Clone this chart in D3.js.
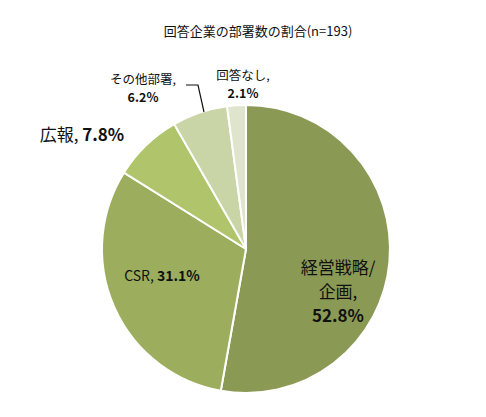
<!DOCTYPE html>
<html><head><meta charset="utf-8">
<script src="https://cdn.jsdelivr.net/npm/d3@7"></script>
<style>body{margin:0;background:#fff}text{font-family:"Noto Sans CJK JP","Noto Sans",sans-serif;fill:#111}</style>
</head><body><svg id="c" width="486" height="417"></svg>
<script>
const names = ["経営戦略/企画", "CSR", "広報", "その他部署", "回答なし"];
const values = [52.8, 31.1, 7.8, 6.2, 2.1];
const colors = ["#8a9a55", "#9cae5e", "#afc46b", "#c9d5a6", "#dfe5cc"];

const svg = d3.select('#c');
const cx = 246, cy = 249, r = 144;
svg.append('text').attr('x', 258).attr('y', 36).attr('text-anchor', 'middle')
  .attr('font-size', 13).text('回答企業の部署数の割合(n=193)');

const pie = d3.pie().sort(null).value(d => d)(values);
const arc = d3.arc().innerRadius(0).outerRadius(r);
const g = svg.append('g').attr('transform', `translate(${cx},${cy})`);
g.selectAll('path').data(pie).join('path')
  .attr('d', arc).attr('fill', (d, i) => colors[i])
  .attr('stroke', '#fff').attr('stroke-width', 2);

// leader line for その他部署
svg.append('path').attr('d', 'M186,85 L198,85 L204,112')
  .attr('fill', 'none').attr('stroke', '#111').attr('stroke-width', 1.2);

// each line is drawn as its own text element
function label(x, y, lines, size) {
  lines.forEach((l, i) => {
    const t = svg.append('text').attr('x', x).attr('y', y + i * size * 1.4)
      .attr('text-anchor', 'middle').attr('font-size', size);
    l.forEach(p => t.append('tspan').attr('font-weight', p[1] ? 'bold' : null).text(p[0]));
  });
}
label(338, 274, [[[names[0].slice(0, 5)]], [[names[0].slice(5) + ',']], [[values[0] + '%', 1]]], 17);
label(162, 281, [[[names[1] + ', '], [values[1] + '%', 1]]], 14);
label(82, 141, [[[names[2] + ', '], [values[2] + '%', 1]]], 17);
label(143, 84, [[[names[3] + ',']], [[values[3] + '%', 1]]], 12.5);
label(243, 80, [[[names[4] + ',']], [[values[4] + '%', 1]]], 12.5);
</script></body></html>
